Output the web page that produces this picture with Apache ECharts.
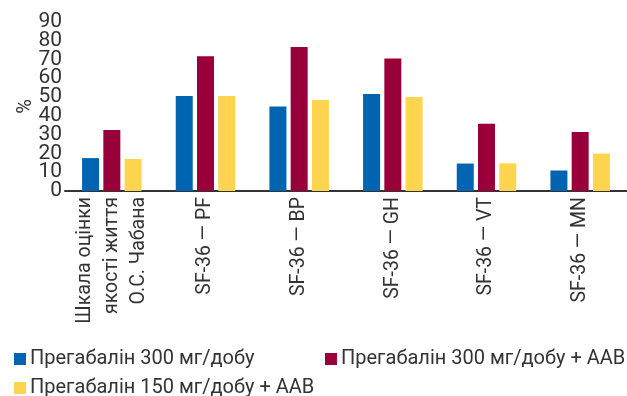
<!DOCTYPE html>
<html>
<head>
<meta charset="utf-8">
<script src="https://cdn.jsdelivr.net/npm/echarts@6/dist/echarts.min.js"></script>
<style>
html,body{margin:0;padding:0;background:#fff;}
#chart{width:627px;height:396px;}
</style>
</head>
<body>
<div id="chart"></div>
<script>
const categories = ['Шкала оцінки\nякості життя\nО.С. Чабана', 'SF-36 — PF', 'SF-36 — BP', 'SF-36 — GH', 'SF-36 — VT', 'SF-36 — MN'];
const seriesNames = ['Прегабалін 300 мг/добу', 'Прегабалін 300 мг/добу + ААВ', 'Прегабалін 150 мг/добу + ААВ'];
const pregabalin300 = [17.5, 50.5, 44.9, 51.6, 14.6, 10.9];
const pregabalin300AAV = [32.4, 71.6, 76.6, 70.4, 35.8, 31.4];
const pregabalin150AAV = [17.0, 50.5, 48.4, 50.0, 14.7, 19.9];
const yTicks = [0, 10, 20, 30, 40, 50, 60, 70, 80, 90];
const colors = ['#0064B1', '#99003A', '#FFD54F'];
const FONT = 'Roboto';

const chart = echarts.init(document.getElementById('chart'));
const values = [pregabalin300, pregabalin300AAV, pregabalin150AAV];
const legendPos = [{left: 14, top: 349}, {left: 325, top: 349}, {left: 14, top: 378}];

// Two overlaid value axes: one prints the even ticks, the other the odd ones,
// so that no label is dropped by overlap handling.
function makeYAxis(parity, withName) {
  return {
    type: 'value', position: 'left', min: yTicks[0], max: yTicks[yTicks.length - 1], interval: 10,
    name: withName ? '%' : '', nameLocation: 'middle', nameRotate: 90, nameGap: 29, nameMoveOverlap: false,
    nameTextStyle: {fontFamily: FONT, fontSize: 20, color: '#333'},
    axisLine: {show: false}, axisTick: {show: false}, splitLine: {show: false},
    axisLabel: {
      margin: 3, showMinLabel: true, showMaxLabel: true, fontFamily: FONT, fontSize: 21, color: '#333',
      formatter: v => (yTicks.indexOf(v) % 2 === parity ? String(v) : '')
    }
  };
}

chart.setOption({
  animation: false,
  textStyle: {fontFamily: FONT},
  grid: {left: 65, right: -4, top: 21.7, bottom: 205},
  legend: seriesNames.map((n, i) => ({
    data: [n], left: legendPos[i].left, top: legendPos[i].top,
    itemWidth: 12, itemHeight: 12, itemGap: 4, icon: 'rect', padding: 0,
    textStyle: {fontFamily: FONT, fontSize: 20, color: '#333', padding: [0, 0, 0, -1]}
  })),
  xAxis: {
    type: 'category', data: categories,
    axisLine: {lineStyle: {color: '#333', width: 2}},
    axisTick: {show: false},
    axisLabel: {rotate: 90, interval: 0, margin: 6, fontFamily: FONT, fontSize: 19.5, lineHeight: 27, color: '#333'}
  },
  yAxis: [makeYAxis(0, true), makeYAxis(1, false)],
  series: seriesNames.map((n, i) => ({
    name: n, type: 'bar', data: values[i], barWidth: 17, barGap: '25%', yAxisIndex: 0,
    itemStyle: {color: colors[i]}
  }))
});
</script>
</body>
</html>
